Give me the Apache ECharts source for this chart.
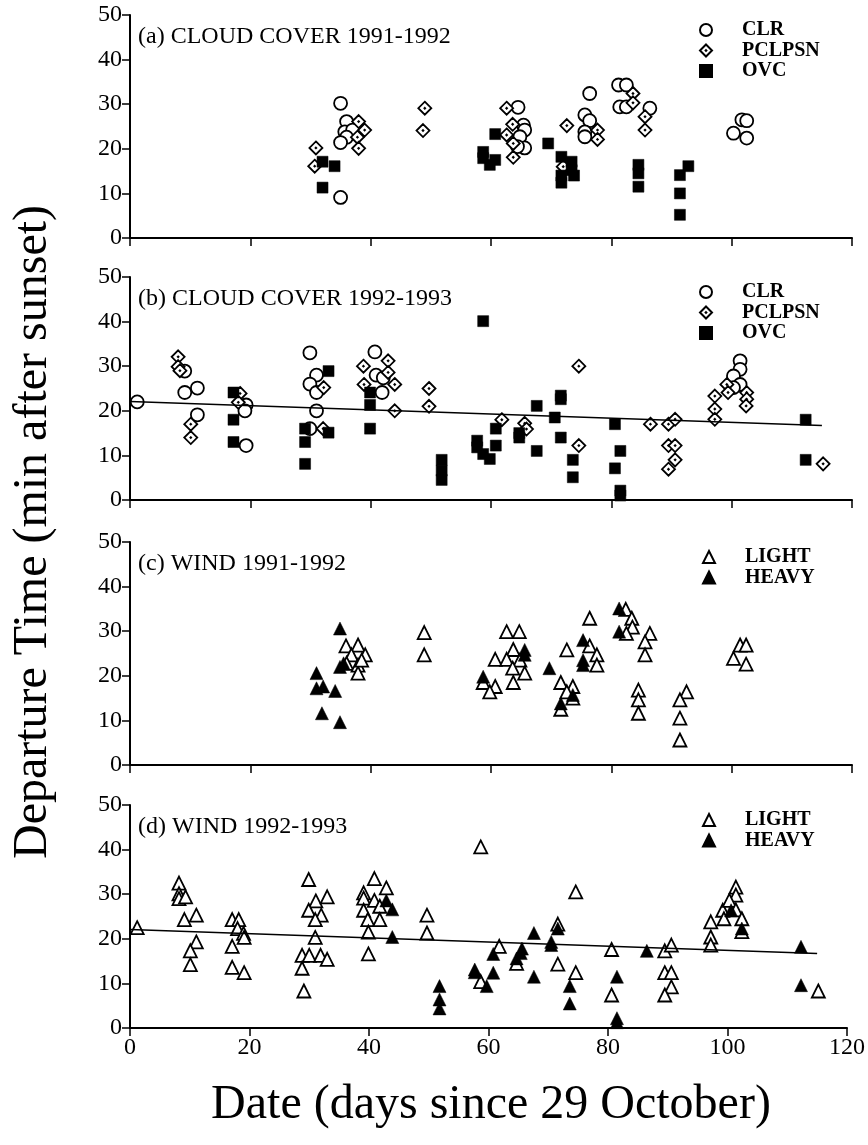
<!DOCTYPE html>
<html>
<head>
<meta charset="utf-8">
<script src="https://cdn.jsdelivr.net/npm/echarts@6.0.0/dist/echarts.min.js"></script>
<style>
html, body {margin: 0; padding: 0; background: #fff;}
#chart {width: 868px; height: 1145px;}
</style>
</head>
<body>
<div id="chart"></div>
<script>
// values: [day since 29 Oct, minutes after sunset]
var clrA = [[35,30.2],[35,9.1],[36,26.1],[35.7,23.8],[37,24.2],[36,22.6],[35,21.4],[64.5,29.3],[65.4,25.3],[65.6,24.2],
    [64.8,22.7],[65.6,20.2],[64.4,20.5],[76.4,32.4],[75.6,27.6],[76.4,26.3],[75.6,23.8],[75.6,22.7],[81.2,34.3],[82.5,34.3],
    [81.4,29.4],[82.5,29.4],[86.4,29.1],[101.7,26.5],[102.5,26.3],[100.3,23.5],[102.5,22.4]];
var pclpsnA = [[30.9,20.2],[30.7,16.1],[38,26.1],[39,24.2],[37.8,22.6],[38,20.1],[49,29.1],[48.7,24.1],[62.6,29.1],[63.6,25.5],
    [62.6,23.1],[63.7,21.2],[63.7,18.1],[72.6,25.2],[72,16],[77.7,24.2],[77.7,22.1],[83.6,32.4],[83.6,30.3],[85.6,27.2],[85.6,24.2]];
var ovcA = [[32,17.1],[34,16.1],[32,11.3],[60.7,23.3],[58.7,19.3],[58.7,17.9],[59.8,16.4],[60.7,17.5],[69.5,21.2],[71.7,18.2],
    [71.7,14],[71.7,12.4],[73.4,17.1],[73.4,15.2],[73.8,14],[84.5,16.4],[84.5,14.5],[84.5,11.5],[91.4,14.1],[92.8,16.1],[91.4,10],[91.4,5.2]];

var clrB = [[1.2,22],[9.1,28.9],[9.1,24.1],[11.2,25.1],[11.2,19.1],[19.3,21.3],[19.1,20],[19.3,12.2],[29.9,33],[31,28],
    [29.9,26],[31,24.1],[31,20],[29.9,16],[40.7,33.2],[40.9,28],[42.1,27.4],[41.9,24.1],[101.4,31.2],[101.4,29.3],
    [100.3,27.8],[101.4,25.9],[100.3,25.2]];
var pclpsnB = [[8,32.1],[8,29.9],[8.3,29],[10.1,17],[10.1,14],[18.3,23.9],[18,21.9],[32.2,25.2],[32.1,16],[38.8,30],
    [38.9,25.9],[42.9,31.2],[42.9,28.6],[44,25.9],[44,20],[49.7,25],[49.7,21],[61.8,18],[65.6,17.2],[65.9,15.9],
    [74.6,30],[74.6,12.2],[86.5,17],[89.5,17],[90.6,18.1],[89.5,12.2],[90.6,12.2],[90.6,9],[89.5,6.9],[97.2,23.3],
    [97.2,20.4],[97.2,18.1],[99.2,25.9],[99.4,24.1],[102.5,24.1],[102.5,22.6],[102.4,21.1],[115.2,8.1]];
var ovcB = [[17.2,24.1],[17.2,18],[17.2,13],[29.1,16],[29.1,13],[29.1,8.1],[33,28.9],[33,15.1],[39.9,24.1],[39.9,21.3],
    [39.9,16],[51.8,9],[51.8,6.6],[51.8,4.5],[58.7,40.1],[57.7,13.3],[57.7,11.8],[58.7,10.3],[59.8,9.2],[60.8,12.2],
    [60.8,16],[64.7,15],[64.7,14],[67.6,21.1],[67.6,11],[71.6,22.6],[71.6,23.4],[70.6,18.5],[71.6,14],[73.6,9],
    [73.6,5.1],[80.6,17],[80.6,7.1],[81.5,11],[81.5,2.1],[81.5,1],[112.3,18],[112.3,9]];

var lightC = [[35.9,26.7],[37.9,26.9],[36.8,24.7],[39.1,24.7],[36,22.8],[37.9,22.4],[37.9,20.6],[38.5,23.5],[48.9,29.7],[48.9,24.7],
    [62.6,29.9],[64.7,29.9],[63.7,25.9],[60.7,23.7],[62.6,23.7],[64.8,23.5],[63.6,21.7],[65.6,20.6],[63.7,18.5],[58.7,18.5],
    [60.7,17.6],[59.8,16.4],[72.6,25.8],[71.6,18.5],[73.6,17.6],[72.6,16.4],[73.6,15],[71.6,12.5],[76.4,32.9],[76.4,26.7],
    [77.6,24.7],[77.6,22.4],[82.4,34.9],[83.4,32.9],[83.5,30.9],[82.5,29.5],[86.4,29.5],[85.6,27.6],[85.6,24.7],[84.5,16.8],
    [84.5,14.6],[84.5,11.6],[92.5,16.4],[91.4,14.6],[91.4,10.5],[91.4,5.6],[101.4,26.9],[102.4,26.9],[100.3,23.9],[102.4,22.6]];
var heavyC = [[34.9,30.6],[31,20.6],[31,17.2],[32.1,17.6],[34.1,16.6],[31.9,11.6],[34.9,9.6],[34.9,22],[35.5,22.8],[58.7,19.8],
    [65.6,25.8],[65.6,24.7],[69.7,21.7],[73.6,15.7],[71.6,13.8],[75.3,28],[75.3,23.5],[75.3,22.4],[81.3,35.1],[81.3,29.9]];

var lightD = [[1.2,22.5],[8.2,32.5],[8.2,30.1],[8.2,29],[9.3,29.4],[9.1,24.3],[11.1,25.3],[11.1,19.3],[10.1,17.3],[10.1,14.2],
    [17.1,24.3],[18.2,24.3],[18,22.3],[19,21.2],[19.1,20.3],[17.1,18.3],[17.1,13.6],[19.1,12.4],[29.9,33.3],[31.1,28.5],
    [33,29.4],[29.9,26.4],[32,25.3],[31,24.3],[31,20.3],[28.8,16.3],[30,16.3],[31.9,16.3],[33,15.4],[28.8,13.4],
    [29.1,8.3],[39.1,30.3],[39.1,29.1],[40.9,33.5],[40.9,28.6],[42.9,31.4],[41.8,27.3],[39.1,26.4],[39.8,24.3],[41.8,24.3],
    [39.9,21.5],[39.9,16.6],[49.7,25.3],[49.7,21.3],[58.7,40.6],[58.7,10.4],[61.8,18.3],[64.7,14.5],[71.6,23.3],[71.6,14.3],
    [74.6,30.5],[74.6,12.4],[80.6,17.6],[80.6,7.4],[89.5,17.3],[90.6,18.6],[89.5,12.4],[90.6,12.4],[90.6,9.2],[89.5,7.4],
    [97.2,23.8],[97.2,20.4],[97.2,18.6],[99.2,26.4],[99.4,24.5],[101.4,31.6],[101.4,29.8],[100.3,28.6],[101.4,26.5],[102.4,24.5],
    [102.4,21.6],[115.2,8.3]];
var heavyD = [[42.9,28.6],[43.9,26.6],[43.9,20.4],[51.8,9.4],[51.8,6.4],[51.8,4.4],[57.7,13.1],[57.7,12.5],[59.7,9.4],[60.8,12.4],
    [60.8,16.6],[67.6,21.3],[67.6,11.5],[65.6,17.8],[65.4,16.8],[64.7,15.6],[70.5,19.3],[70.5,18.6],[71.6,22.3],[73.6,9.4],
    [73.6,5.5],[81.5,11.5],[81.5,2.2],[81.5,1.3],[86.5,17.3],[100.6,26.4],[102.4,22.3],[112.3,18.2],[112.3,9.6]];

// regression line for 1992-1993, both panels
var trend9293 = [[0,22.1],[115,16.7]];

var panelTitles = ['(a) CLOUD COVER 1991-1992', '(b) CLOUD COVER 1992-1993', '(c) WIND 1991-1992', '(d) WIND 1992-1993'];
var cloudNames = ['CLR', 'PCLPSN', 'OVC'];
var windNames = ['LIGHT', 'HEAVY'];
var xTicks = [0, 120, 20];
var yTicks = [0, 50, 10];

var FONT = '"Liberation Serif", "DejaVu Serif", serif';
var panelTop = [15, 277, 542, 805];
var panelH = 223;
var DIAMOND = 'path://M0,-10L10,0L0,10L-10,0Z M0,-0.6L0.6,0L0,0.6L-0.6,0Z';

var chart = echarts.init(document.getElementById('chart'));

function buildGrid(i) {
    return {left: 130, top: panelTop[i], width: 722, height: panelH};
}

function buildXAxis(i) {
    return {
        type: 'value', gridIndex: i,
        min: xTicks[0], max: xTicks[1], interval: xTicks[2],
        axisLine: {lineStyle: {color: '#000', width: 2}},
        axisTick: {show: true, inside: false, length: 8, lineStyle: {color: '#000', width: 1.5}},
        axisLabel: {show: i === 3, color: '#000', fontFamily: FONT, fontSize: 24, margin: 8},
        splitLine: {show: false}
    };
}

function buildYAxis(i) {
    return {
        type: 'value', gridIndex: i,
        min: yTicks[0], max: yTicks[1], interval: yTicks[2],
        axisLine: {show: true, lineStyle: {color: '#000', width: 2}},
        axisTick: {show: true, inside: false, length: 8, lineStyle: {color: '#000', width: 1.5}},
        axisLabel: {color: '#000', fontFamily: FONT, fontSize: 24, margin: 8},
        splitLine: {show: false}
    };
}

function scatter(name, i, data, symbol, size, filled) {
    return {
        name: name, type: 'scatter',
        xAxisIndex: i, yAxisIndex: i,
        data: data,
        symbol: symbol, symbolSize: size,
        itemStyle: filled ? {color: '#000', borderColor: '#000', borderWidth: 0.5, opacity: 1}
                          : {color: '#fff', borderColor: '#000', borderWidth: 1.8, opacity: 1},
        emphasis: {disabled: true}
    };
}

function trendLine(i) {
    return {
        type: 'line', xAxisIndex: i, yAxisIndex: i,
        data: trend9293, showSymbol: false, symbol: 'none',
        lineStyle: {color: '#000', width: 1.5},
        z: 5, silent: true
    };
}

function buildLegend(i, names, left) {
    return {
        data: names, orient: 'vertical',
        left: left, top: panelTop[i] + 5,
        itemWidth: 12, itemHeight: 12, itemGap: 0.5,
        selectedMode: false, padding: 0,
        textStyle: {color: '#000', fontFamily: FONT, fontSize: 20, fontWeight: 'bold', lineHeight: 20,
            padding: [0, 0, 0, 25]}
    };
}

var series = [
    scatter('CLR', 0, clrA, 'circle', 13, false),
    scatter('PCLPSN', 0, pclpsnA, DIAMOND, 13, false),
    scatter('OVC', 0, ovcA, 'rect', 11, true),
    scatter('CLR', 1, clrB, 'circle', 13, false),
    scatter('PCLPSN', 1, pclpsnB, DIAMOND, 13, false),
    scatter('OVC', 1, ovcB, 'rect', 11, true),
    trendLine(1),
    scatter('LIGHT', 2, lightC, 'triangle', 13, false),
    scatter('HEAVY', 2, heavyC, 'triangle', 13, true),
    scatter('LIGHT', 3, lightD, 'triangle', 13, false),
    scatter('HEAVY', 3, heavyD, 'triangle', 13, true),
    trendLine(3)
];

var option = {
    animation: false,
    backgroundColor: '#fff',
    title: panelTitles.map(function (t, i) {
        return {text: t, left: 138, top: panelTop[i] + 10, padding: 0,
            textStyle: {color: '#000', fontFamily: FONT, fontSize: 24, fontWeight: 'normal'}};
    }),
    legend: [buildLegend(0, cloudNames, 699), buildLegend(1, cloudNames, 699),
        buildLegend(2, windNames, 702), buildLegend(3, windNames, 702)],
    grid: [0, 1, 2, 3].map(buildGrid),
    xAxis: [0, 1, 2, 3].map(buildXAxis),
    yAxis: [0, 1, 2, 3].map(buildYAxis),
    series: series,
    graphic: [
        {type: 'text', x: 33, y: 532, rotation: Math.PI / 2,
            style: {text: 'Departure Time (min after sunset)', fontFamily: FONT, fontSize: 48,
                align: 'center', verticalAlign: 'middle', fill: '#000'}},
        {type: 'text', x: 491, y: 1105,
            style: {text: 'Date (days since 29 October)', fontFamily: FONT, fontSize: 48,
                align: 'center', verticalAlign: 'middle', fill: '#000'}}
    ]
};
chart.setOption(option);
</script>
</body>
</html>
